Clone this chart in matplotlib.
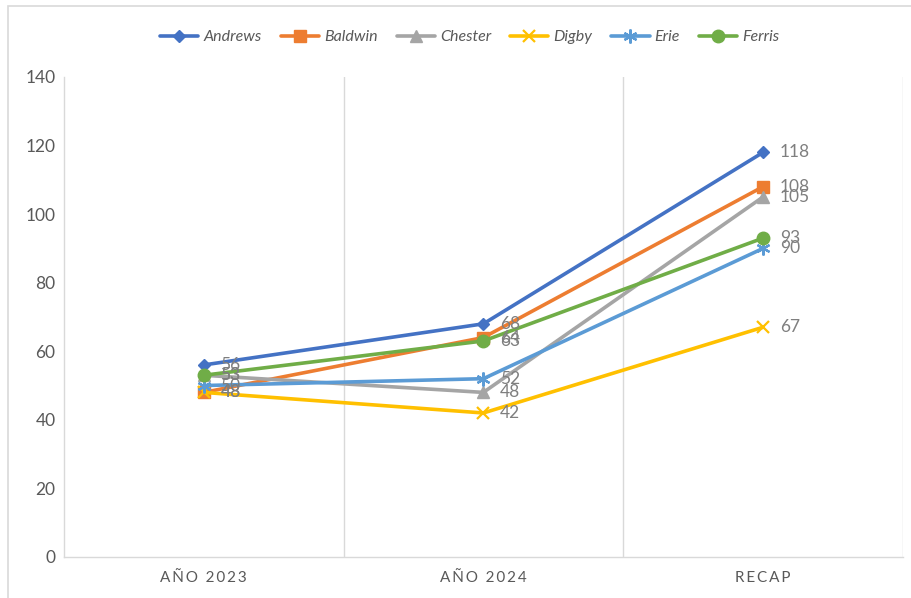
import matplotlib.pyplot as plt
from matplotlib.patches import Rectangle

categories = ["AÑO 2023", "AÑO 2024", "RECAP"]
andrews = [56, 68, 118]
baldwin = [48, 64, 108]
chester = [53, 48, 105]
digby = [48, 42, 67]
erie = [50, 52, 90]
ferris = [53, 63, 93]

series = [
    ("Andrews", andrews, "#4472C4", "D", 6),
    ("Baldwin", baldwin, "#ED7D31", "s", 8),
    ("Chester", chester, "#A5A5A5", "^", 8),
    ("Digby", digby, "#FFC000", "x", 8),
    ("Erie", erie, "#5B9BD5", (6, 2, 0), 10),
    ("Ferris", ferris, "#70AD47", "o", 9),
]

plt.rcParams["font.family"] = ["Lato", "DejaVu Sans"]
text_grey = "#595959"
grid_grey = "#D9D9D9"

fig = plt.figure(figsize=(9.12, 5.98), dpi=100)
ax = fig.add_axes([0.070, 0.0686, 0.920, 0.8027])

x = list(range(len(categories)))
for name, vals, color, marker, ms in series:
    ax.plot(x, vals, color=color, lw=2.6, marker=marker, ms=ms,
            mew=1.6 if marker in ("x", (6, 2, 0)) else 1.0,
            label=name, solid_capstyle="round")
    for xi, v in zip(x, vals):
        ax.annotate(str(v), (xi, v), xytext=(12, 0), textcoords="offset points",
                    va="center", ha="left", fontsize=12.5, color="#7F7F7F")

ax.set_xlim(-0.5, 2.5)
ax.set_ylim(0, 140)
ax.set_yticks(range(0, 141, 20))
ax.set_xticks(x)
# spaced-out category labels
ax.set_xticklabels(["\u2009".join(c) for c in categories])
ax.tick_params(axis="x", length=0, labelsize=11, colors=text_grey, pad=10)
ax.tick_params(axis="y", length=0, labelsize=12.5, colors=text_grey, pad=6)

for xb in (0.5, 1.5, 2.5):
    ax.axvline(xb, color=grid_grey, lw=1.0, zorder=0)
for side in ("top", "right"):
    ax.spines[side].set_visible(False)
for side in ("left", "bottom"):
    ax.spines[side].set_color(grid_grey)
    ax.spines[side].set_linewidth(1.0)

handles, labels = ax.get_legend_handles_labels()
fig.legend(handles, labels, loc="center", bbox_to_anchor=(0.515, 0.938), ncol=6,
           frameon=False, prop={"style": "italic", "size": 11.5},
           handlelength=2.4, columnspacing=1.2, handletextpad=0.3,
           labelcolor=text_grey)

# chart area border
fig.patches.append(Rectangle((8 / 912, -0.1), 1.2, 1 - 6 / 598 + 0.1,
                             transform=fig.transFigure, fill=False,
                             ec=grid_grey, lw=1.2))

fig.savefig("out.png", dpi=100)
